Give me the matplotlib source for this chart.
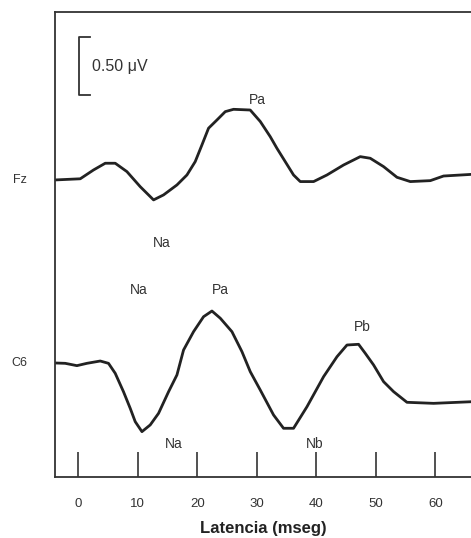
import numpy as np
import matplotlib
matplotlib.use('Agg')
import matplotlib.pyplot as plt

plt.rcParams['font.family'] = ['Liberation Sans', 'DejaVu Sans']

# latency (ms) and amplitude (uV) of the two traces
fz_ms = [-3.9, 0.34, 2.57, 4.54, 6.22, 8.18, 10.42, 12.66, 14.34, 16.59, 18.27,
         19.66, 20.79, 21.9, 23.31, 24.71, 26.1, 28.9, 30.59, 32.27, 33.39, 36.18,
         37.31, 39.55, 41.8, 44.59, 47.39, 49.07, 51.31, 53.56, 55.8, 59.16, 61.39,
         66.05]
fz_uv = [0.0, 0.01, 0.086, 0.144, 0.144, 0.072, -0.058, -0.172, -0.129, -0.043,
         0.043, 0.158, 0.302, 0.446, 0.517, 0.589, 0.609, 0.603, 0.504, 0.373,
         0.273, 0.043, -0.014, -0.014, 0.043, 0.129, 0.201, 0.187, 0.115, 0.023,
         -0.014, -0.006, 0.034, 0.048]

c6_ms = [-3.9, -2.18, -0.22, 1.46, 3.70, 5.09, 6.22, 7.61, 8.74, 9.58, 10.71,
         12.10, 13.50, 15.18, 16.59, 17.70, 19.38, 21.06, 22.47, 23.87, 25.83,
         27.51, 28.91, 30.59, 32.82, 34.50, 36.18, 38.44, 41.23, 43.48, 45.16,
         47.11, 48.24, 49.63, 51.31, 52.99, 55.24, 59.71, 66.05]
c6_uv = [0.0, -0.003, -0.023, -0.003, 0.017, -0.003, -0.089, -0.248, -0.391,
         -0.506, -0.592, -0.534, -0.434, -0.248, -0.103, 0.112, 0.270, 0.399,
         0.448, 0.386, 0.270, 0.098, -0.075, -0.233, -0.448, -0.563, -0.563,
         -0.377, -0.118, 0.054, 0.155, 0.161, 0.083, -0.017, -0.161, -0.247,
         -0.339, -0.348, -0.334]

ticks = [0, 10, 20, 30, 40, 50, 60]
fz_offset = 1.578
scale_uv = 0.50

fig = plt.figure(figsize=(4.71, 5.38), dpi=100)
ax = fig.add_axes([55 / 471, 61 / 538, 416 / 471, 465 / 538])

ink = '#222222'
txt = '#333333'
ax.plot(fz_ms, np.array(fz_uv) + fz_offset, color=ink, lw=2.0,
        solid_joinstyle='round', solid_capstyle='round')
ax.plot(c6_ms, c6_uv, color=ink, lw=2.0,
        solid_joinstyle='round', solid_capstyle='round')

ax.set_xlim(-3.9, 66.0)
ax.set_ylim(-0.983, 3.026)

ax.spines['right'].set_visible(False)
for s in ['left', 'top', 'bottom']:
    ax.spines[s].set_linewidth(1.3)
    ax.spines[s].set_color('#333333')

ax.set_yticks([])
ax.set_xticks(ticks)
ax.tick_params(axis='x', direction='in', length=18, width=1.2, color='#333333',
               pad=15, labelsize=9.5, labelcolor=txt)
ax.set_xlabel('Latencia (mseg)', fontsize=12, fontweight='bold', color=ink, labelpad=8)

# calibration bar
y0 = 2.31
ax.plot([2.0, 0.17, 0.17, 2.0], [y0, y0, y0 + scale_uv, y0 + scale_uv],
        color='#333333', lw=1.3)
ax.text(2.3, y0 + scale_uv / 2, '%.2f μV' % scale_uv, fontsize=11.5, color=txt,
        va='center', ha='left')

# channel names
ax.text(-9.75, fz_offset, 'Fz', fontsize=9, color=txt, ha='center', va='center', clip_on=False)
ax.text(-9.9, 0, 'C6', fontsize=9, color=txt, ha='center', va='center', clip_on=False)

# component labels
lbl = dict(fontsize=10, color=txt, ha='center', va='center')
ax.text(30.1, 2.267, 'Pa', **lbl)
ax.text(14.1, 1.034, 'Na', **lbl)
ax.text(10.1, 0.629, 'Na', **lbl)
ax.text(23.9, 0.629, 'Pa', **lbl)
ax.text(47.7, 0.31, 'Pb', **lbl)
ax.text(16.0, -0.698, 'Na', **lbl)
ax.text(39.8, -0.698, 'Nb', **lbl)

fig.savefig('out.png', dpi=100)
